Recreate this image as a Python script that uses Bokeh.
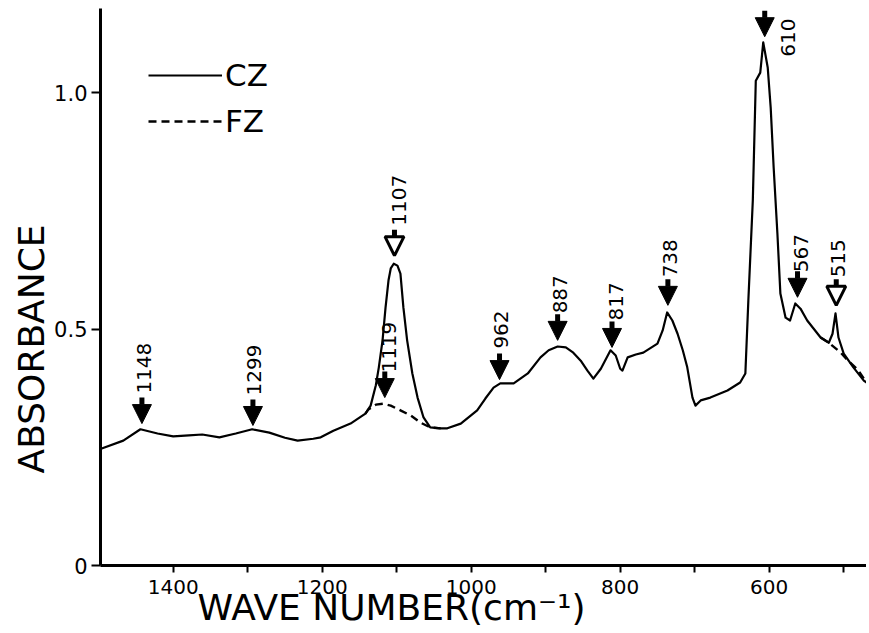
import math
import numpy as np
from bokeh.plotting import figure
from bokeh.models import (Range1d, FixedTicker, Legend, LegendItem, Title, Arrow,
                          NormalHead, ColumnDataSource)
from bokeh.core.properties import value
from bokeh.embed import file_html
from bokeh.resources import INLINE

# ---------------- data ----------------
cz_wavenumber = [1500, 1467, 1444, 1421, 1400, 1379, 1361, 1338, 1316, 1294, 1271, 1250, 1233,
                 1212, 1202, 1185, 1162, 1142, 1135, 1128, 1124, 1119, 1115, 1111, 1108, 1104,
                 1099, 1095, 1091, 1086, 1079, 1072, 1064, 1055, 1041, 1032, 1014, 992, 981,
                 970, 961, 943, 924, 907, 896, 884, 873, 863, 853, 844, 836, 826, 813, 806,
                 800, 797, 790, 779, 769, 750, 743, 737, 730, 723, 716, 710, 703, 699, 692,
                 679, 656, 639, 632, 628, 622, 618, 612, 608, 602, 598, 594, 589, 585, 578,
                 572, 565, 558, 549, 531, 520, 515, 511, 507, 500, 487, 473, 460]
cz_absorbance = [0.245, 0.264, 0.288, 0.279, 0.273, 0.275, 0.277, 0.271, 0.279, 0.288, 0.281, 0.270, 0.264,
                 0.268, 0.271, 0.285, 0.300, 0.321, 0.338, 0.381, 0.419, 0.476, 0.545, 0.603, 0.628, 0.638,
                 0.634, 0.617, 0.545, 0.476, 0.406, 0.355, 0.313, 0.292, 0.290, 0.290, 0.300, 0.328, 0.353,
                 0.376, 0.385, 0.385, 0.406, 0.440, 0.455, 0.463, 0.461, 0.450, 0.433, 0.412, 0.395, 0.416, 0.455, 0.444,
                 0.416, 0.412, 0.440, 0.446, 0.450, 0.469, 0.497, 0.535, 0.518, 0.490, 0.455, 0.419, 0.355, 0.338, 0.349,
                 0.355, 0.370, 0.387, 0.406, 0.560, 0.772, 1.025, 1.042, 1.106, 1.053, 0.968, 0.841, 0.702, 0.575, 0.524,
                 0.518, 0.554, 0.543, 0.518, 0.482, 0.471, 0.490, 0.533, 0.482, 0.448, 0.419, 0.391, 0.376]

fz_wavenumber = [1142, 1138, 1128, 1118, 1108, 1095, 1081, 1068, 1055, 1041, float("nan"),
                 531, 520, 504, 494, 481, 473, 460]
fz_absorbance = [0.321, 0.330, 0.340, 0.342, 0.338, 0.328, 0.317, 0.302, 0.292, 0.290, float("nan"),
                 0.482, 0.471, 0.450, 0.433, 0.414, 0.395, 0.375]

peak_labels = ["1148", "1299", "1119", "1107", "962", "887", "817", "738", "610", "567", "515"]
peak_wavenumber = [1442, 1293, 1116, 1103, 962, 884, 811, 736, 606, 562, 510]
peak_arrow_tip = [0.300, 0.296, 0.355, 0.655, 0.393, 0.476, 0.461, 0.550, 1.118, 0.567, 0.550]
peak_hollow = [False, False, False, True, False, False, False, False, False, False, True]

x_tick_values = [1400, 1300, 1200, 1100, 1000, 900, 800, 700, 600, 500]
x_tick_labels = ["1400", "", "1200", "", "1000", "", "800", "", "600", ""]
y_tick_values = [0, 0.5, 1.0]
y_tick_labels = ["0", "0.5", "1.0"]

x_title = "WAVE  NUMBER(cm\u207b\u00b9)"
y_title = "ABSORBANCE"
series_names = ["CZ", "FZ"]

# ---------------- layout ----------------
W, H = 866, 630
BL, BR, BT, BB = 100, 0, 8, 65
FW, FH = W - BL - BR, H - BT - BB
X0, X1 = 1497.6, 469.4
Y0, Y1 = 0.0, 1.1776
FONT = "DejaVu Sans"
data_per_px_y = (Y1 - Y0) / FH

p = figure(width=W, height=H, x_range=Range1d(X0, X1), y_range=Range1d(Y0, Y1),
           output_backend="svg", toolbar_location=None,
           min_border_left=BL, min_border_right=BR, min_border_top=BT, min_border_bottom=BB)
p.outline_line_color = None
p.xgrid.visible = False
p.ygrid.visible = False
p.background_fill_color = "white"
p.border_fill_color = "white"

# axes
p.xaxis.ticker = FixedTicker(ticks=x_tick_values, minor_ticks=[])
p.xaxis.major_label_overrides = {v: l for v, l in zip(x_tick_values, x_tick_labels)}
p.yaxis.ticker = FixedTicker(ticks=y_tick_values, minor_ticks=[])
p.yaxis.major_label_overrides = {v: l for v, l in zip(y_tick_values, y_tick_labels)}
for ax in (p.xaxis, p.yaxis):
    ax.axis_line_width = 3
    ax.axis_line_color = "black"
    ax.major_tick_line_width = 2
    ax.major_tick_line_color = "black"
    ax.major_tick_in = 0
    ax.minor_tick_line_color = None
    ax.major_label_text_font = FONT
    ax.major_label_text_color = "black"
p.xaxis.major_label_text_font_size = "20px"
p.yaxis.major_label_text_font_size = "21px"
p.xaxis.major_tick_out = 7
p.xaxis.major_label_standoff = 7
p.yaxis.major_tick_out = 9
p.yaxis.major_label_standoff = 4

# curves
cz = p.line(cz_wavenumber, cz_absorbance, line_width=2.2, line_color="black",
            line_join="round")
fz = p.line(np.array(fz_wavenumber), np.array(fz_absorbance), line_width=2.4,
            line_color="black", line_dash="8 5")

# arrows
stem = 26 * data_per_px_y
for hollow in (False, True):
    idx = [i for i, h in enumerate(peak_hollow) if h == hollow]
    src = ColumnDataSource(dict(
        xs=[peak_wavenumber[i] for i in idx], xe=[peak_wavenumber[i] for i in idx],
        ys=[peak_arrow_tip[i] + stem for i in idx], ye=[peak_arrow_tip[i] for i in idx]))
    head = NormalHead(size=19, fill_color="white" if hollow else "black",
                      line_color="black", line_width=3 if hollow else 1)
    p.add_layout(Arrow(end=head, x_start="xs", y_start="ys", x_end="xe", y_end="ye",
                       source=src, line_width=5, line_color="black"))

# peak labels (screen offsets from arrow tip)
lab_dx = [2, 1, 4, 5, 1, 2, 4, 2, 23, 3, 2]
lab_dy = [-30, -30, -25, -30, -31, -27, -27, -28, 20, -25, -28]
lsrc = ColumnDataSource(dict(x=peak_wavenumber, y=peak_arrow_tip, text=peak_labels,
                             dx=lab_dx, dy=lab_dy))
p.text(x="x", y="y", text="text", source=lsrc, x_offset="dx", y_offset="dy",
       angle=math.pi / 2, text_align="left", text_baseline="middle",
       text_font=value(FONT), text_font_size="20px", text_color="black")

# legend
legend = Legend(items=[LegendItem(label=series_names[0], renderers=[cz]),
                       LegendItem(label=series_names[1], renderers=[fz])],
                location=(48, 424), glyph_width=74, glyph_height=40, label_height=40,
                label_standoff=3, spacing=6, padding=0, margin=0,
                border_line_alpha=0, background_fill_alpha=0,
                label_text_font=FONT, label_text_font_size="31px",
                label_text_color="black")
p.add_layout(legend)

# axis titles (as side-panel titles, offset like the original)
p.add_layout(Title(text=x_title, align="left", offset=97, vertical_align="top",
                   standoff=-20, text_font=FONT, text_font_size="36px",
                   text_font_style="normal", text_color="black"), "below")
p.add_layout(Title(text=y_title, align="left", offset=92, vertical_align="bottom",
                   standoff=0, text_font=FONT, text_font_size="36px",
                   text_font_style="normal", text_color="black"), "left")

open("out.html", "w").write(file_html(p, INLINE))
